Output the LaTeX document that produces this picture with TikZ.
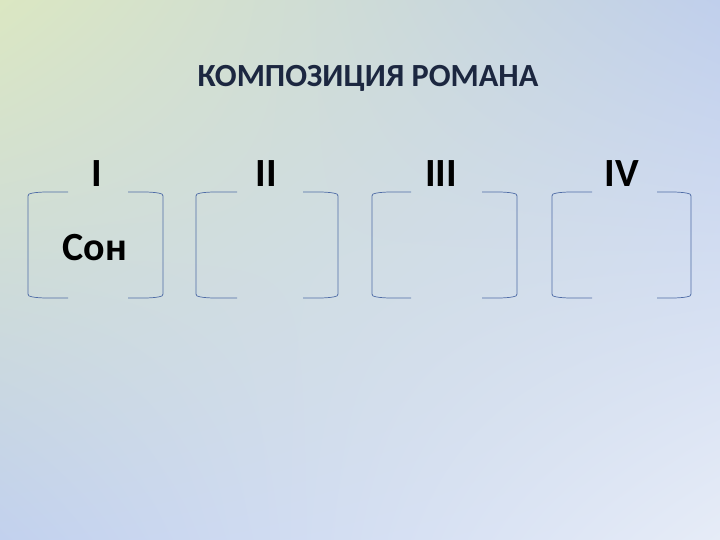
\documentclass[tikz,border=0pt]{standalone}
\usepackage{fontspec}
\setmainfont{Carlito}
\usetikzlibrary{shadings}
\definecolor{bgUL}{HTML}{DBE7C2}
\definecolor{bgUR}{HTML}{C0CFEC}
\definecolor{bgLL}{HTML}{C2D1EE}
\definecolor{bgLR}{HTML}{E6ECF7}
\definecolor{titlecol}{HTML}{1C2740}
\definecolor{brk}{HTML}{4F6CA6}
\tikzset{
  brline/.style={draw=brk, line width=0.7pt, line join=round},
  titletext/.style={font=\fontsize{32.3}{38}\selectfont\bfseries, text=titlecol, inner sep=0pt, anchor=base},
  numtext/.style={font=\fontsize{40}{48}\selectfont\bfseries, text=black, inner sep=0pt, anchor=base},
}
\newcommand{\brpair}[4]{% left x, left tick end, right tick start, right x
  \draw[brline] (#2,192) -- ({#1+16},192) .. controls ({#1+6},192.6) .. ({#1+1},194) -- (#1,196) -- (#1,294) -- ({#1+1},296) .. controls ({#1+6},297.4) .. ({#1+16},298) -- (#2,298);
  \draw[brline] (#3,192) -- ({#4-16},192) .. controls ({#4-6},192.6) .. ({#4-1},194) -- (#4,196) -- (#4,294) -- ({#4-1},296) .. controls ({#4-6},297.4) .. ({#4-16},298) -- (#3,298);
}
\begin{document}
\begin{tikzpicture}[x=1pt,y=-1pt]
\useasboundingbox (0,0) rectangle (720,540);
\shade[upper left=bgUL, upper right=bgUR, lower left=bgLL, lower right=bgLR] (0,0) rectangle (720,540);
\node[titletext] (title) at (368,87) {КОМПОЗИЦИЯ РОМАНА};
\brpair{28}{68}{128}{163}
\brpair{196}{237}{303}{338}
\brpair{372}{411}{482}{517}
\brpair{552}{592}{657}{691}
\node[numtext] (n1) at (97,187) {I};
\node[numtext] (n2) at (266,187) {II};
\node[numtext] (n3) at (441,187) {III};
\node[numtext] (n4) at (622,187) {IV};
\node[numtext] (son) at (95,260) {Сон};
\end{tikzpicture}
\end{document}
